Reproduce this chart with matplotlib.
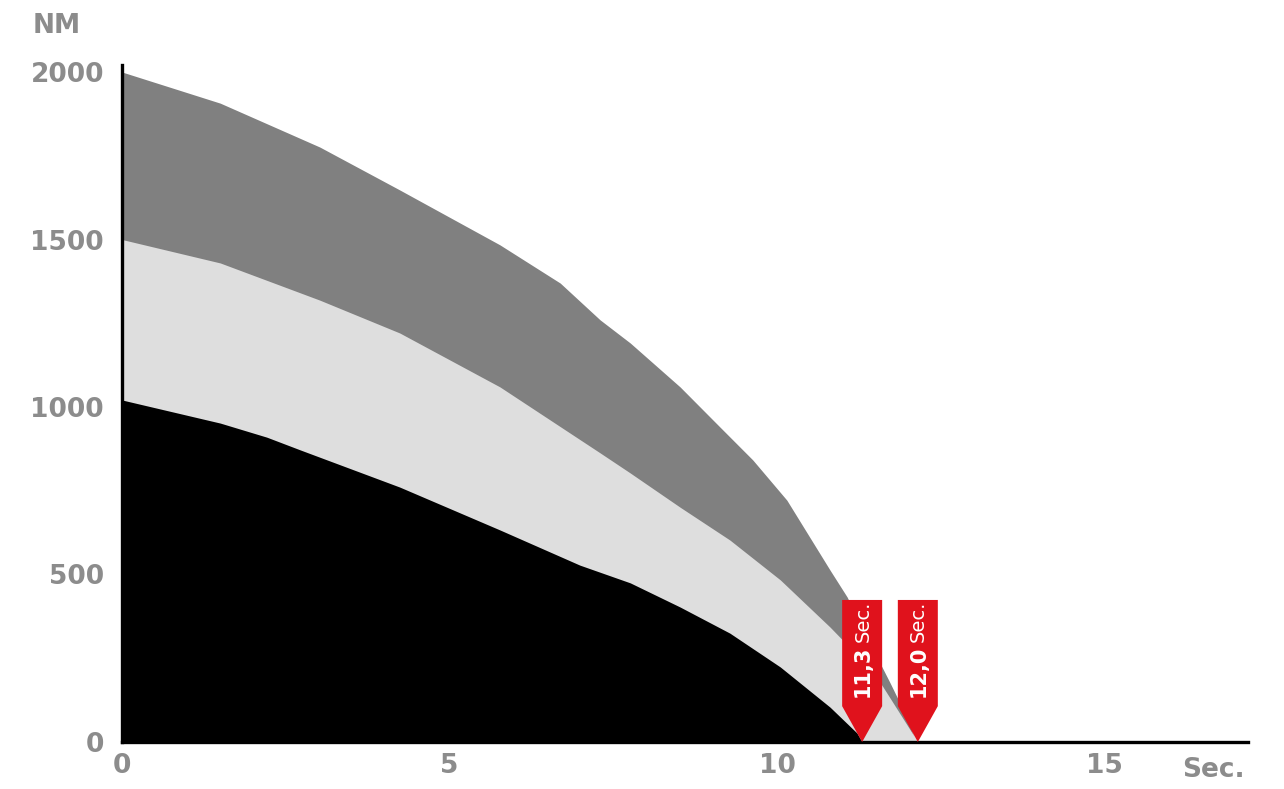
import matplotlib
matplotlib.use("Agg")
import matplotlib.pyplot as plt
from matplotlib.patches import Polygon

# Drehmoment ueber Zeit, drei Stufen
t_2000 = [0, 1.50, 3.02, 4.24, 5.77, 6.69, 7.30, 7.76, 8.52, 9.13, 9.63,
          10.15, 10.81, 11.07, 11.47, 11.73, 11.98, 12.12]
nm_2000 = [2000, 1907, 1776, 1648, 1484, 1370, 1260, 1191, 1060, 940, 842,
           722, 513, 433, 275, 175, 75, 0]

t_1500 = [0, 1.50, 3.02, 4.24, 5.77, 7.30, 7.76, 8.52, 9.28, 10.05, 10.81,
          11.47, 11.73, 12.15]
nm_1500 = [1500, 1430, 1319, 1221, 1060, 863, 803, 701, 603, 484, 343,
           210, 130, 0]

t_1000 = [0, 1.50, 2.21, 2.72, 4.24, 5.77, 6.99, 7.76, 8.52, 9.28, 10.05,
          10.81, 11.22, 11.3]
nm_1000 = [1021, 952, 910, 872, 761, 633, 528, 475, 403, 325, 224,
           104, 27, 0]

x_ticks = [0, 5, 10, 15]
y_ticks = [0, 500, 1000, 1500, 2000]

# Markierungen (Position der Spitze, Beschriftung)
marker_x = [11.3, 12.15]
marker_bold = ["11,3", "12,0"]

grijs_tekst = "#8c8c8c"
rood = "#e0121c"
plt.rcParams['font.family'] = ["DejaVu Sans"]

fig = plt.figure(figsize=(12.84, 7.89), dpi=100)
ax = fig.add_axes([122 / 1284, 47 / 789, 1126 / 1284, 677 / 789])

ax.fill_between(t_2000, 0, nm_2000, color="#808080", lw=0)
ax.fill_between(t_1500, 0, nm_1500, color="#dedede", lw=0)
ax.fill_between(t_1000, 0, nm_1000, color="black", lw=0)

ax.set_xlim(0, 1126 / 65.5)
ax.set_ylim(0, 677 / 0.335)

for s in ["top", "right"]:
    ax.spines[s].set_visible(False)
for s in ["left", "bottom"]:
    ax.spines[s].set_linewidth(2.4)
    ax.spines[s].set_color("black")
    ax.spines[s].set_zorder(5)

ax.set_xticks(x_ticks)
ax.set_yticks(y_ticks)
ax.tick_params(length=0, labelsize=19, labelcolor=grijs_tekst)
ax.tick_params(axis="x", pad=8)
ax.tick_params(axis="y", pad=13)
for lab in ax.get_xticklabels() + ax.get_yticklabels():
    lab.set_fontweight("bold")

fig.text(33 / 1284, 1 - 26 / 789, "NM", fontsize=19, fontweight="bold",
         color=grijs_tekst, va="center", ha="left")
fig.text(1245 / 1284, 1 - 770 / 789, "Sec.", fontsize=19, fontweight="bold",
         color=grijs_tekst, va="center", ha="right")

# rode pijlen
half_w = 20 / 65.5
for xm, txt in zip(marker_x, marker_bold):
    pts = [(xm - half_w, 424), (xm + half_w, 424), (xm + half_w, 107),
           (xm, 0), (xm - half_w, 107)]
    ax.add_patch(Polygon(pts, closed=True, color=rood, lw=0, zorder=6))
    ax.text(xm + 0.01, 135, txt, rotation=90, color="white", fontsize=15,
            fontweight="bold", ha="center", va="bottom", zorder=7)
    ax.text(xm + 0.01, 300, "Sec.", rotation=90, color="white", fontsize=14,
            ha="center", va="bottom", zorder=7)

fig.savefig("out.png", dpi=100)
